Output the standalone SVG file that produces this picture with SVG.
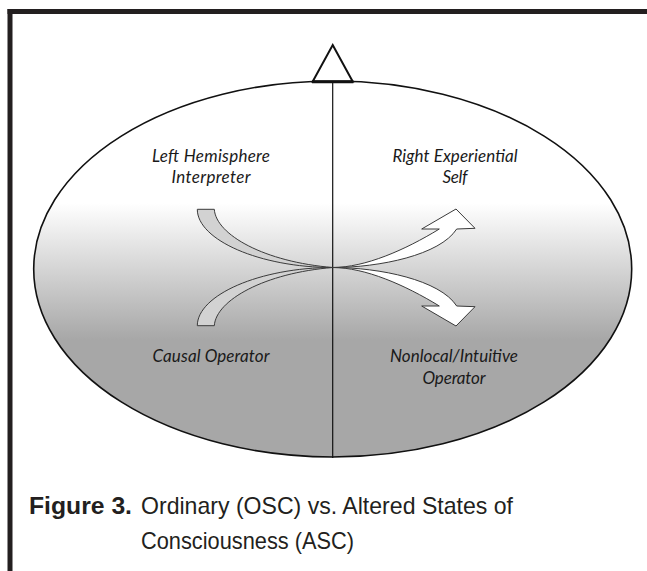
<svg xmlns="http://www.w3.org/2000/svg" width="647" height="571" viewBox="0 0 647 571">
  <defs>
    <linearGradient id="bg" gradientUnits="userSpaceOnUse" x1="0" y1="203" x2="0" y2="340">
      <stop offset="0" stop-color="#ffffff"/>
      <stop offset="1" stop-color="#a7a7a7"/>
    </linearGradient>
  </defs>
  <style>
    .frame { stroke: #231f20; stroke-width: 5; fill: none; }
    .lbl { font-family: "Lato", "Open Sans", sans-serif; font-style: italic; font-size: 17px; fill: #1a1a1a; text-anchor: middle; }
    .cap { font-family: "Liberation Sans", Arial, sans-serif; font-size: 24px; fill: #231f20; }
    .arrL { fill: #d2d2d2; stroke: #3a3a3a; stroke-width: 1; }
    .arrR { fill: #ffffff; stroke: #3a3a3a; stroke-width: 1; }
  </style>
  <rect width="647" height="571" fill="#ffffff"/>
  <g id="frame">
    <line class="frame" x1="7.5" y1="11.5" x2="647" y2="11.5"/>
    <line class="frame" x1="10" y1="9" x2="10" y2="571"/>
  </g>
  <g id="ellipse">
    <ellipse cx="332.7" cy="269" rx="299" ry="188" fill="url(#bg)" stroke="#111" stroke-width="1.6"/>
    <line x1="332.7" y1="81" x2="332.7" y2="458" stroke="#111" stroke-width="1.2"/>
  </g>
  <g id="pointer">
    <polygon points="332.7,45 352.7,81.5 312.7,81.5" fill="#ffffff" stroke="#111" stroke-width="2" stroke-linejoin="miter"/>
    <line x1="312" y1="81.7" x2="353.4" y2="81.7" stroke="#111" stroke-width="3"/>
  </g>
  <g id="connectors">
    <path id="arrow-left-top" class="arrL" d="M197.3,209.3 L214.3,209.3 C216,235 265,262 332.7,267.5 C260,267.5 197.3,240 197.3,209.3 Z"/>
    <path id="arrow-left-bottom" class="arrL" d="M197.3,325.7 L214.3,325.7 C216,300 265,273 332.7,267.5 C260,267.5 197.3,295 197.3,325.7 Z"/>
    <path id="arrow-right-top" class="arrR" d="M332.7,267.5 C365,267.5 405,250 439.3,229 L421.7,229 L456,209 L475,228.3 L456.7,229 C440,255 380,267.5 332.7,267.5 Z"/>
    <path id="arrow-right-bottom" class="arrR" d="M332.7,267.5 C365,267.5 405,285 439.3,306 L421.7,306 L456,326 L475,306.7 L456.7,306 C440,280 380,267.5 332.7,267.5 Z"/>
  </g>
  <g id="node-left-hemisphere">
    <text class="lbl" x="211" y="161.7" textLength="118">Left Hemisphere</text>
    <text class="lbl" x="211" y="183.3" textLength="79">Interpreter</text>
  </g>
  <g id="node-right-experiential">
    <text class="lbl" x="455" y="161.7" textLength="125">Right Experiential</text>
    <text class="lbl" x="455" y="183.3" textLength="25">Self</text>
  </g>
  <g id="node-causal">
    <text class="lbl" x="211" y="362" textLength="117">Causal Operator</text>
  </g>
  <g id="node-nonlocal">
    <text class="lbl" x="454" y="362" textLength="128">Nonlocal/Intuitive</text>
    <text class="lbl" x="454" y="383.5" textLength="63">Operator</text>
  </g>
  <g id="caption">
    <text class="cap" x="29" y="514" font-weight="bold" textLength="103" lengthAdjust="spacingAndGlyphs">Figure 3.</text>
    <text class="cap" x="141" y="514" textLength="372" lengthAdjust="spacingAndGlyphs">Ordinary (OSC) vs. Altered States of</text>
    <text class="cap" x="141" y="549" textLength="213" lengthAdjust="spacingAndGlyphs">Consciousness (ASC)</text>
  </g>
</svg>
